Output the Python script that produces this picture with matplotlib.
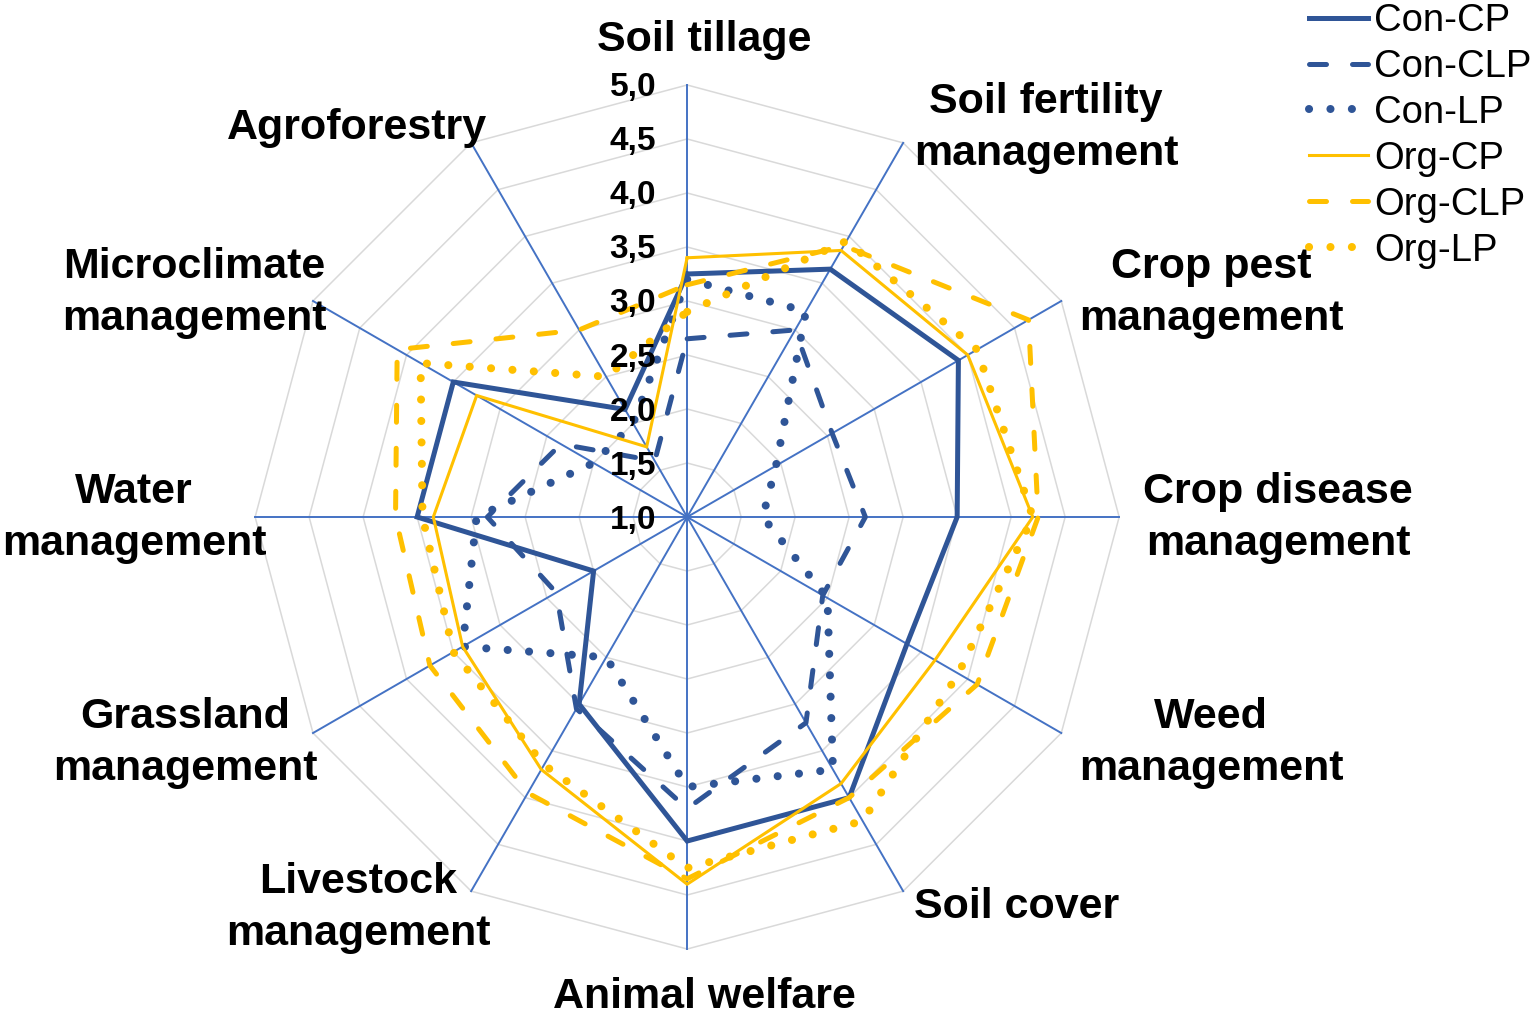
import numpy as np
import matplotlib
matplotlib.use('Agg')
import matplotlib.pyplot as plt

plt.rcParams['font.family'] = ['Liberation Sans', 'DejaVu Sans']

# categories, clockwise from the top
categories = ['Soil tillage', 'Soil fertility\nmanagement', 'Crop pest\nmanagement',
              'Crop disease\nmanagement', 'Weed\nmanagement', 'Soil cover',
              'Animal welfare', 'Livestock\nmanagement', 'Grassland\nmanagement',
              'Water\nmanagement', 'Microclimate\nmanagement', 'Agroforestry']

con_cp = [3.25, 3.65, 3.9, 3.5, 3.35, 4.0, 4.0, 3.0, 2.0, 3.5, 3.5, 2.15]
con_clp = [2.65, 3.0, 2.55, 2.65, 2.45, 3.2, 3.7, 3.05, 2.4, 2.85, 2.35, 1.6]
con_lp = [3.2, 3.2, 1.95, 1.7, 2.5, 3.7, 3.5, 2.5, 3.4, 2.95, 2.0, 2.0]
org_cp = [3.4, 3.85, 4.0, 4.2, 3.65, 3.85, 4.4, 3.7, 3.4, 3.35, 3.25, 1.75]
org_clp = [3.15, 3.9, 4.65, 4.25, 4.1, 4.0, 4.35, 3.95, 3.75, 3.7, 4.1, 3.0]
org_lp = [2.9, 3.95, 4.1, 4.2, 3.9, 4.25, 4.25, 3.65, 3.5, 3.45, 3.85, 2.5]

series_names = ['Con-CP', 'Con-CLP', 'Con-LP', 'Org-CP', 'Org-CLP', 'Org-LP']
series_values = [con_cp, con_clp, con_lp, org_cp, org_clp, org_lp]

levels = [1.0, 1.5, 2.0, 2.5, 3.0, 3.5, 4.0, 4.5, 5.0]
level_labels = ['1,0', '1,5', '2,0', '2,5', '3,0', '3,5', '4,0', '4,5', '5,0']

BLUE = '#2F5597'
GOLD = '#FFC000'
AXIS_BLUE = '#4472C4'
GRID = '#D9D9D9'

# color, linewidth, dash pattern (None = solid)
styles = [
    (BLUE, 3.6, None),
    (BLUE, 3.6, (3.4, 5.2)),
    (BLUE, 5.8, (0.01, 2.65)),
    (GOLD, 2.2, None),
    (GOLD, 3.6, (3.4, 5.2)),
    (GOLD, 5.8, (0.01, 2.65)),
]

# label offsets from the end of each spoke, in pixels
label_offsets = [(17, 45), (143, 15), (150, 8), (159, -1), (150, -10), (113, -16),
                 (17, -48), (-113, -17), (-128, -10), (-121, -1), (-119, 8), (-114, 15)]

n = len(categories)
angles = np.linspace(0, 2 * np.pi, n, endpoint=False)
closed = np.append(angles, angles[0])

fig = plt.figure(figsize=(15.35, 10.25), dpi=100)
ax = fig.add_axes([0.1662, 0.0741, 0.5629, 0.843], projection='polar')
ax.set_theta_offset(np.pi / 2)
ax.set_theta_direction(-1)
ax.set_ylim(levels[0], levels[-1])
ax.set_xticks([])
ax.set_yticks([])
ax.grid(False)
ax.spines['polar'].set_visible(False)
ax.patch.set_alpha(0)

# polygon grid
for lv in levels[1:]:
    ax.plot(closed, [lv] * (n + 1), color=GRID, lw=1.1, zorder=1, clip_on=False)
# spokes
for a in angles:
    ax.plot([a, a], [levels[0], levels[-1]], color=AXIS_BLUE, lw=1.4, zorder=2, clip_on=False)

for i, (name, vals) in enumerate(zip(series_names, series_values)):
    color, lw, dashes = styles[i]
    line, = ax.plot(closed, np.append(vals, vals[0]), color=color, lw=lw, label=name,
                    zorder=3 + i, clip_on=False, solid_joinstyle='miter')
    if dashes is not None:
        line.set_dashes(dashes)
        line.set_dash_capstyle('round')

# value labels along the top spoke
for lv, txt in zip(levels, level_labels):
    ax.annotate(txt, xy=(0, lv), xytext=(-31, -3), textcoords='offset pixels',
                ha='right', va='center', fontsize=24, fontweight='bold',
                annotation_clip=False, zorder=10)

# category labels
for a, cat, off in zip(angles, categories, label_offsets):
    ax.annotate(cat, xy=(a, levels[-1]), xytext=off, textcoords='offset pixels',
                ha='center', va='center', multialignment='center', linespacing=1.4,
                fontsize=31, fontweight='bold', annotation_clip=False)

handles, labels = ax.get_legend_handles_labels()
fig.legend(handles, labels, loc='upper left', bbox_to_anchor=(1309 / 1535, 1.0 - 3 / 1025),
           frameon=False, fontsize=27.5, handlelength=1.55, handletextpad=0.15,
           labelspacing=0.26, borderpad=0, borderaxespad=0)

fig.savefig('out.png', dpi=100)
